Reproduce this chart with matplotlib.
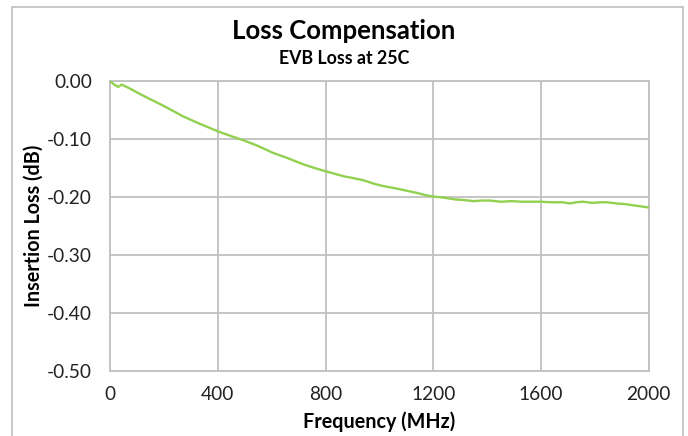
import matplotlib.pyplot as plt
from matplotlib.patches import Rectangle

# EVB insertion loss vs frequency, 25C
freq_mhz = [0, 15, 30, 43, 70, 110, 148, 200, 272, 330, 402, 450, 495, 550,
            606, 660, 720, 760, 804, 866, 900, 940, 980, 1014, 1060, 1101,
            1140, 1175, 1200, 1240, 1280, 1311, 1350, 1380, 1410, 1450, 1490,
            1530, 1560, 1596, 1640, 1680, 1707, 1730, 1755, 1790, 1820, 1843,
            1880, 1910, 1940, 1970, 2000]
loss_db = [0.000, -0.006, -0.010, -0.006, -0.012, -0.022, -0.031, -0.043,
           -0.061, -0.073, -0.087, -0.095, -0.102, -0.112, -0.124, -0.133,
           -0.144, -0.150, -0.156, -0.164, -0.167, -0.171, -0.177, -0.181,
           -0.185, -0.189, -0.193, -0.197, -0.199, -0.201, -0.204, -0.205,
           -0.207, -0.206, -0.206, -0.208, -0.207, -0.208, -0.208, -0.208,
           -0.209, -0.209, -0.211, -0.209, -0.208, -0.210, -0.209, -0.209,
           -0.211, -0.212, -0.214, -0.216, -0.218]

x_ticks = [0, 400, 800, 1200, 1600, 2000]
y_ticks = [0.0, -0.1, -0.2, -0.3, -0.4, -0.5]

plt.rcParams['font.family'] = ['Lato', 'DejaVu Sans']

fig = plt.figure(figsize=(6.88, 4.36), dpi=100)
ax = fig.add_axes([0.160, 0.149, 0.783, 0.665])

ax.plot(freq_mhz, loss_db, color='#92D050', lw=1.7, zorder=3)

ax.set_xlim(0, 2000)
ax.set_ylim(-0.5, 0.0)
ax.set_xticks(x_ticks)
ax.set_yticks(y_ticks)
ax.set_yticklabels(['%.2f' % v for v in y_ticks])
ax.grid(True, color='#C0C0C0', lw=1.3)
for s in ax.spines.values():
    s.set_color('#C0C0C0')
    s.set_linewidth(1.3)
ax.tick_params(length=0, labelsize=13.8, colors='#222222')
ax.tick_params(axis='x', pad=11)
ax.tick_params(axis='y', pad=13)

ax.set_xlabel('Frequency (MHz)', fontsize=14.2, fontweight='bold', va='center')
ax.set_ylabel('Insertion Loss (dB)', fontsize=14.2, fontweight='bold', va='center')
ax.xaxis.set_label_coords(0.5, -0.176)
ax.yaxis.set_label_coords(-0.141, 0.5)

fig.text(0.5, 0.930, 'Loss Compensation', ha='center', va='center',
         fontsize=18.5, fontweight='bold')
fig.text(0.5, 0.865, 'EVB Loss at 25C', ha='center', va='center',
         fontsize=12.8, fontweight='bold')

# chart frame
fig.patches.append(Rectangle((12 / 688, -0.05), (683 - 12) / 688, 1 - 7 / 436 + 0.05,
                             transform=fig.transFigure, fill=False,
                             edgecolor='#BFBFBF', lw=1.2))

fig.savefig('out.png', dpi=100)
